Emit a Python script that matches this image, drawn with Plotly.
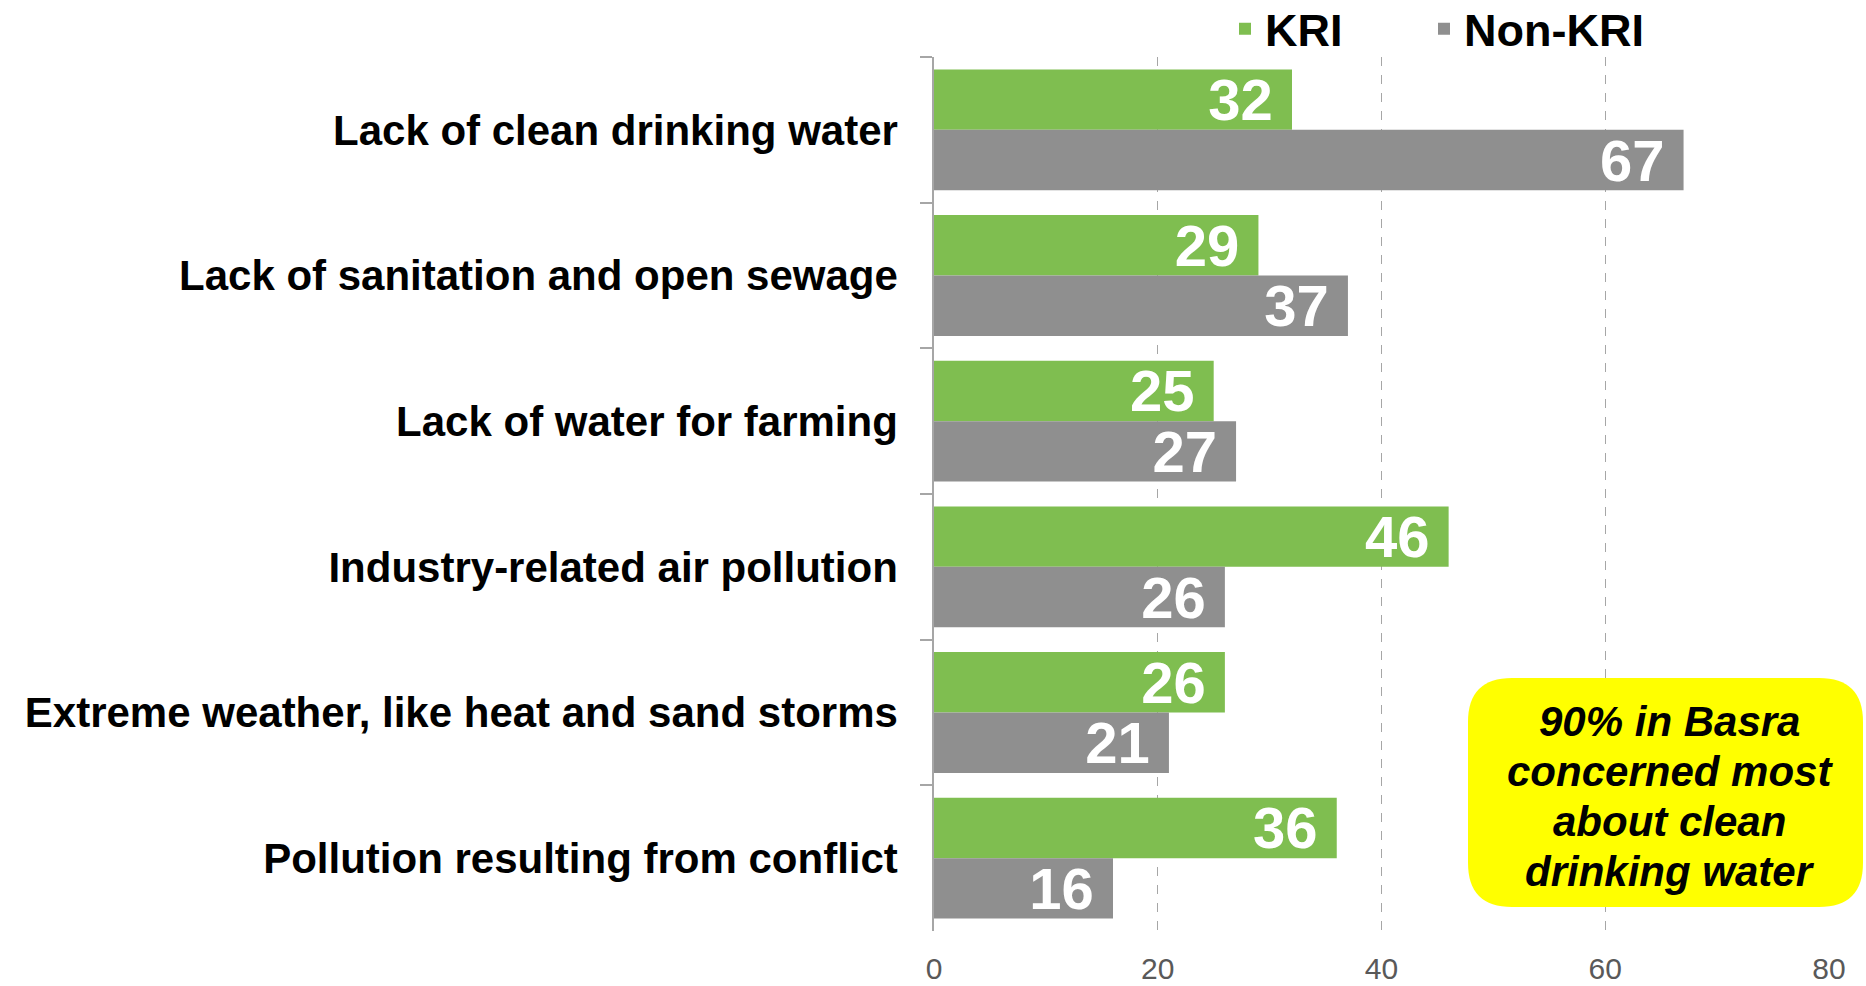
import plotly.graph_objects as go

categories = [
    "Lack of clean drinking water",
    "Lack of sanitation and open sewage",
    "Lack of water for farming",
    "Industry-related air pollution",
    "Extreme weather, like heat and sand storms",
    "Pollution resulting from conflict",
]
kri = [32, 29, 25, 46, 26, 36]
non_kri = [67, 37, 27, 26, 21, 16]
x_ticks = [0, 20, 40, 60, 80]
series_names = ["KRI", "Non-KRI"]
callout_lines = ["90% in Basra", "concerned most", "about clean", "drinking water"]

GREEN = "#7FBE50"
GREY = "#8F8F8F"
AXIS = "#A6A6A6"
FONT = "Liberation Sans, Arial, sans-serif"

W, H = 1866, 986
ML, MR, MT, MB = 934, 37, 57, 55
PW, PH = W - ML - MR, H - MT - MB

fig = go.Figure()
for name, vals, col, lg in [(series_names[0], kri, GREEN, "legend"),
                            (series_names[1], non_kri, GREY, "legend2")]:
    fig.add_trace(go.Bar(
        name=name, y=categories, x=vals, orientation="h",
        marker=dict(color=col, line=dict(width=0)),
        text=vals, texttemplate="%{x}\u00a0",
        textposition="inside", insidetextanchor="end",
        constraintext="none",
        textfont=dict(family=FONT, size=58, color="white", weight="bold"),
        hoverinfo="skip", legend=lg,
    ))

def px_to_paper(px, py):
    return (px - ML) / PW, (H - MB - py) / PH

# rounded yellow callout box (pixel geometry converted to paper coords)
bx0, by0 = px_to_paper(1468, 907)
bx1, by1 = px_to_paper(1863, 678)
rx, ry = 44 / PW, 44 / PH
path = (f"M {bx0+rx},{by0} L {bx1-rx},{by0} Q {bx1},{by0} {bx1},{by0+ry} "
        f"L {bx1},{by1-ry} Q {bx1},{by1} {bx1-rx},{by1} "
        f"L {bx0+rx},{by1} Q {bx0},{by1} {bx0},{by1-ry} "
        f"L {bx0},{by0+ry} Q {bx0},{by0} {bx0+rx},{by0} Z")
fig.add_shape(type="path", xref="paper", yref="paper", path=path,
              fillcolor="#FFFF00", line=dict(width=0), layer="above")
cx = (bx0 + bx1) / 2 + 4 / PW
for i, line in enumerate(callout_lines):
    _, ly = px_to_paper(0, 721 + 50 * i)
    fig.add_annotation(xref="paper", yref="paper", x=cx, y=ly,
                       text="<b><i>" + line + "</i></b>", showarrow=False,
                       xanchor="center", yanchor="middle", align="center",
                       font=dict(family=FONT, size=42, color="black"))

_, leg_y = px_to_paper(0, 29)
leg_common = dict(orientation="h", xref="paper", yref="paper",
                  xanchor="left", yanchor="middle", y=leg_y,
                  font=dict(family=FONT, size=45, color="black", weight="bold"),
                  bgcolor="rgba(0,0,0,0)", borderwidth=0)

fig.update_layout(
    width=W, height=H,
    margin=dict(l=ML, r=MR, t=MT, b=MB, pad=0, autoexpand=False),
    paper_bgcolor="white", plot_bgcolor="white",
    barmode="group", bargap=0.17, bargroupgap=0,
    font=dict(family=FONT),
    showlegend=True,
    legend=dict(x=px_to_paper(1225, 0)[0], **leg_common),
    legend2=dict(x=px_to_paper(1424, 0)[0], **leg_common),
    xaxis=dict(range=[0, 80], tickvals=x_ticks, showgrid=True, gridcolor=AXIS,
               griddash="dash", gridwidth=1.3, zeroline=False, showline=False,
               ticks="", ticklabelstandoff=17, automargin=False,
               tickfont=dict(family=FONT, size=30, color="#595959")),
    yaxis=dict(autorange="reversed", showline=True, linecolor=AXIS, linewidth=1.5,
               ticks="outside", tickson="boundaries", ticklen=12, tickcolor=AXIS,
               tickwidth=1.5, showgrid=False, ticklabelstandoff=26, automargin=False,
               tickfont=dict(family=FONT, size=42, color="black", weight="bold")),
)

fig.write_html("out.html", config={"displayModeBar": False},
               post_script="document.body.style.margin='0';")
